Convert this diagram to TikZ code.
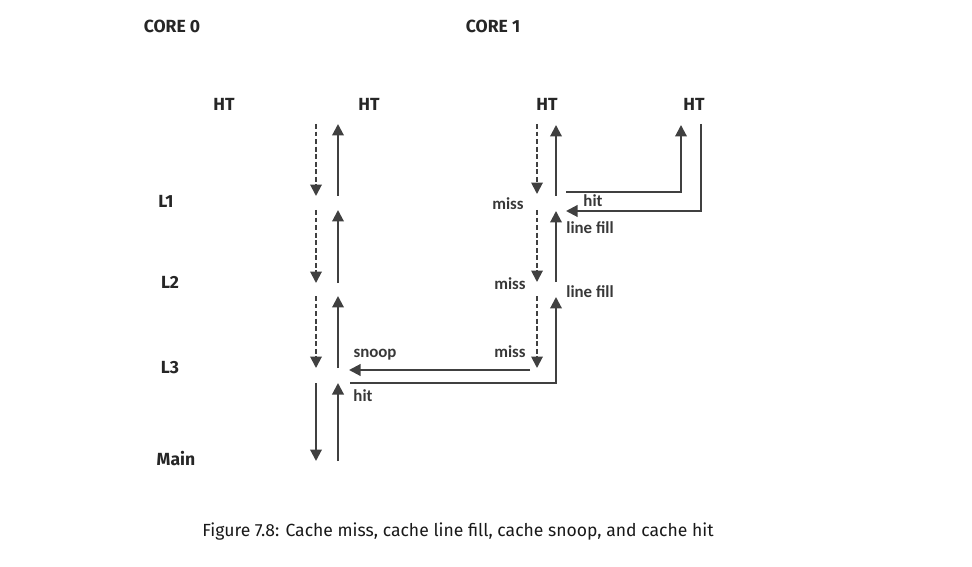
\documentclass[tikz,border=0pt]{standalone}
\usepackage{fontspec}
\setmainfont{Carlito}
\newfontfamily\headfont{Fira Sans}
\usetikzlibrary{arrows.meta,positioning}

\begin{document}
\begin{tikzpicture}[x=0.02cm, y=-0.02cm,
    >={Triangle[length=2.3mm,width=2.3mm]},
    head/.style={font=\headfont\bfseries\fontsize{10}{12}\selectfont, text=black!85},
    lbl/.style={font=\bfseries\fontsize{9.6}{12}\selectfont, text=black!78, inner sep=1pt},
    req/.style={->, line width=1.1pt, draw=black!75, dash pattern=on 2.8pt off 1.5pt},
    fillarr/.style={->, line width=1.2pt, draw=black!75},
    caption/.style={font=\headfont\fontsize{10}{12}\selectfont, text=black!90}]
  \useasboundingbox (0,0) rectangle (972,567);

  % headings
  \node[head] (core0) at (172,26) {CORE 0};
  \node[head] (core1) at (493,26) {CORE 1};
  \node[head] (ht0a) at (224,104) {HT};
  \node[head] (ht0b) at (369,104) {HT};
  \node[head] (ht1a) at (547,104) {HT};
  \node[head] (ht1b) at (694,104) {HT};
  \node[head] (lvl1) at (166,201) {L1};
  \node[head] (lvl2) at (170,282) {L2};
  \node[head] (lvl3) at (170,368) {L3};
  \node[head] (lvlm) at (176,459) {Main};

  % core 0: requests down, fills up
  \foreach \k/\yt/\yb in {1/124/196, 2/210/283, 3/296/368}{
    \coordinate (zrt\k) at (316,\yt);
    \coordinate (zrb\k) at (316,\yb);
    \coordinate (zft\k) at (338,\yt);
    \coordinate (zfb\k) at (338,\yb);
    \draw[req] (zrt\k) -- (zrb\k);
    \draw[fillarr] (zfb\k) -- (zft\k);
  }
  \coordinate (zmrt) at (316,383);
  \coordinate (zmrb) at (316,461);
  \coordinate (zmft) at (338,383);
  \coordinate (zmfb) at (338,461);
  \draw[fillarr] (zmrt) -- (zmrb);
  \draw[fillarr] (zmfb) -- (zmft);

  % core 1: misses down, line fills up
  \foreach \k/\yt/\yb in {1/124/194, 2/210/282, 3/296/368}{
    \coordinate (orq\k) at (537,\yt);
    \coordinate (orb\k) at (537,\yb);
    \draw[req] (orq\k) -- (orb\k);
  }
  \coordinate (oft1) at (556,125);
  \coordinate (ofb1) at (556,196);
  \coordinate (oft2) at (556,211);
  \coordinate (ofb2) at (556,282);
  \coordinate (oft3) at (556,297);
  \draw[fillarr] (ofb1) -- (oft1);
  \draw[fillarr] (ofb2) -- (oft2);

  % second hardware thread of core 1
  \coordinate (htin) at (681,125);
  \coordinate (htout) at (701,124);
  \coordinate (hitsrc) at (566,192);
  \coordinate (hitdst) at (566,211);
  \draw[fillarr] (hitsrc) -| (htin);
  \draw[fillarr] (htout) |- (hitdst);

  % snoop into core 0 L3 and hit back
  \coordinate (snsrc) at (530,370);
  \coordinate (sndst) at (349,370);
  \coordinate (hitl3) at (350,383);
  \draw[fillarr] (snsrc) -- (sndst);
  \draw[fillarr] (hitl3) -| (oft3);

  % labels
  \node[lbl] (miss1) at (508,204) {miss};
  \node[lbl] (hit1) at (593,201) {hit};
  \node[lbl] (fill1) at (590,228) {line fill};
  \node[lbl] (miss2) at (510,284) {miss};
  \node[lbl] (fill2) at (590,292) {line fill};
  \node[lbl] (miss3) at (510,352) {miss};
  \node[lbl] (snoop) at (375,355) {snoop};
  \node[lbl] (hit2) at (363,396) {hit};

  \node[caption] (cap) at (458,532) {Figure 7.8: Cache miss, cache line fill, cache snoop, and cache hit};
\end{tikzpicture}
\end{document}
